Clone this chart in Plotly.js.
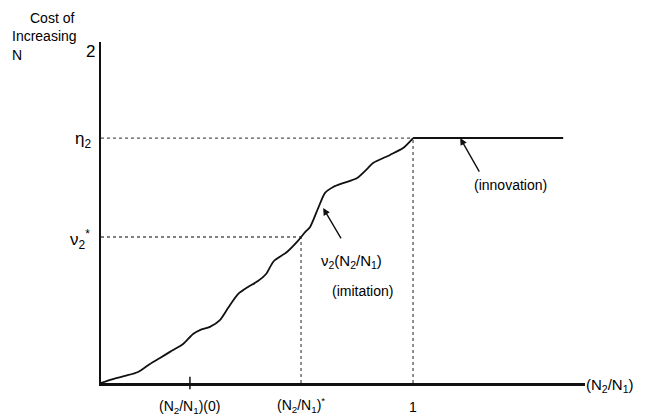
<!DOCTYPE html>
<html>
<head>
<meta charset="utf-8">
<script src="https://cdn.plot.ly/plotly-3.0.1.min.js"></script>
<style>html,body{margin:0;padding:0;background:#fff;}#chart{width:645px;height:417px;}</style>
</head>
<body>
<div id="chart"></div>
<script>
// Imitation cost curve nu2(N2/N1), x = N2/N1 (1 = innovation point), y = cost (eta2 = 1)
const imitX = [0, 0.038, 0.077, 0.119, 0.157, 0.189, 0.221, 0.263, 0.295, 0.317, 0.349, 0.381, 0.407, 0.439, 0.471, 0.503, 0.529, 0.554, 0.596, 0.631, 0.654, 0.670, 0.696, 0.718, 0.744, 0.776, 0.821, 0.856, 0.872, 0.926, 0.968, 1.0];
const imitY = [0, 0.016, 0.029, 0.045, 0.078, 0.102, 0.127, 0.159, 0.200, 0.216, 0.229, 0.257, 0.306, 0.363, 0.392, 0.416, 0.445, 0.498, 0.535, 0.580, 0.616, 0.637, 0.714, 0.776, 0.800, 0.816, 0.837, 0.878, 0.898, 0.931, 0.959, 1.0];
// Innovation cost (flat)
const innovX = [1.0, 1.481];
const eta2 = 1.0;
const nuStar = 0.596;
const ratio0 = 0.285;
const ratioStar = 0.641;
const ratioOne = 1.0;
const xMax = 1.551, yMax = 1.392;

const font = {family: 'Liberation Sans, Arial, sans-serif', size: 14, color: '#000'};
const bigFont = {family: 'Liberation Sans, Arial, sans-serif', size: 17, color: '#000'};
const dotLine = {color: '#555', width: 1.3, dash: 'dot'};

const traces = [
  {x: [0, ratioOne], y: [eta2, eta2], mode: 'lines', line: dotLine, hoverinfo: 'skip'},
  {x: [0, ratioStar], y: [nuStar, nuStar], mode: 'lines', line: dotLine, hoverinfo: 'skip'},
  {x: [ratioStar, ratioStar], y: [0, nuStar], mode: 'lines', line: dotLine, hoverinfo: 'skip'},
  {x: [ratioOne, ratioOne], y: [0, eta2], mode: 'lines', line: dotLine, hoverinfo: 'skip'},
  {x: imitX, y: imitY, mode: 'lines', line: {color: '#111', width: 1.8, shape: 'spline', smoothing: 0.7}},
  {x: innovX, y: [eta2, eta2], mode: 'lines', line: {color: '#111', width: 2}}
];

// text placed in paper coordinates (converted from data units) so it may lie outside the axes
function txt(text, x, y, xa, f) {
  return {text: text, x: x / xMax, y: y / yMax, xref: 'paper', yref: 'paper', xanchor: xa || 'center', yanchor: 'middle', showarrow: false, font: f || font};
}
const annotations = [
  txt('Cost of', -0.080, 1.490, 'right'),
  txt('Increasing', -0.292, 1.416, 'left'),
  txt('N', -0.292, 1.339, 'left'),
  txt('2', -0.035, 1.355, 'center', bigFont),
  txt('η<sub>2</sub>', -0.026, 0.99, 'right', bigFont),
  txt('ν<sub>2</sub><sup>*</sup>', -0.029, 0.585, 'right', bigFont),
  txt('(N<sub>2</sub>/N<sub>1</sub>)(0)', ratio0, -0.098, 'center'),
  txt('(N<sub>2</sub>/N<sub>1</sub>)<sup>*</sup>', ratioStar, -0.09, 'center'),
  txt('1', ratioOne, -0.10, 'center'),
  txt('(N<sub>2</sub>/N<sub>1</sub>)', 1.548, -0.01, 'left', {family: font.family, size: 15, color: '#000'}),
  txt('ν<sub>2</sub>(N<sub>2</sub>/N<sub>1</sub>)', 0.804, 0.494, 'center', {family: font.family, size: 15, color: '#000'}),
  txt('(imitation)', 0.837, 0.376, 'center'),
  txt('(innovation)', 1.311, 0.808, 'center'),
  {text: '', x: 1.151, y: 1.0, ax: 1.215, ay: 0.857, axref: 'x', ayref: 'y', xref: 'x', yref: 'y', showarrow: true, arrowhead: 2, arrowsize: 1, arrowwidth: 1.4, arrowcolor: '#111'},
  {text: '', x: 0.712, y: 0.714, ax: 0.772, ay: 0.584, axref: 'x', ayref: 'y', xref: 'x', yref: 'y', showarrow: true, arrowhead: 2, arrowsize: 1, arrowwidth: 1.4, arrowcolor: '#111'}
];

const shapes = [
  {type: 'line', xref: 'x', yref: 'paper', x0: ratio0, x1: ratio0, y0: -0.018, y1: 0.018, line: {color: '#111', width: 1.5}}
];

const layout = {
  width: 645, height: 417,
  margin: {l: 101, r: 60, t: 42, b: 34},
  paper_bgcolor: '#fff', plot_bgcolor: '#fff',
  showlegend: false,
  xaxis: {range: [0, xMax], showgrid: false, zeroline: false, showticklabels: false, ticks: '', showline: true, linecolor: '#111', linewidth: 2.5, fixedrange: true},
  yaxis: {range: [0, yMax], showgrid: false, zeroline: false, showticklabels: false, ticks: '', showline: true, linecolor: '#111', linewidth: 2.5, fixedrange: true},
  annotations: annotations,
  shapes: shapes,
  font: font
};

Plotly.newPlot('chart', traces, layout, {displayModeBar: false, staticPlot: true});
</script>
</body>
</html>
